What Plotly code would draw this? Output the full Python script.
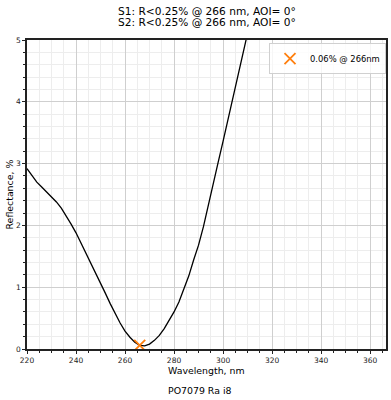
import plotly.graph_objects as go

wavelength = [220, 222, 224, 226, 228, 230, 232, 234, 236, 238, 240, 242, 244, 246, 248,
              250, 252, 254, 256, 258, 260, 262, 264, 266, 268, 270, 272, 274, 276, 278,
              280, 282, 284, 286, 288, 290, 292, 294, 296, 298, 300, 302, 304, 306, 308, 309.5]
reflectance = [2.92, 2.80, 2.70, 2.62, 2.54, 2.46, 2.38, 2.28, 2.16, 2.02, 1.88, 1.72, 1.56, 1.38, 1.22,
               1.06, 0.90, 0.73, 0.57, 0.42, 0.29, 0.19, 0.11, 0.06, 0.05, 0.08, 0.14, 0.22, 0.33, 0.46,
               0.60, 0.76, 0.96, 1.18, 1.44, 1.68, 1.98, 2.34, 2.68, 3.02, 3.36, 3.70, 4.04, 4.38, 4.74, 5.02]
min_wl = [266]
min_r = [0.06]
legend_label = "0.06% @ 266nm"

title_lines = ["S1: R<0.25% @ 266 nm, AOI= 0°", "S2: R<0.25% @ 266 nm, AOI= 0°"]
x_title = "Wavelength, nm"
y_title = "Reflectance, %"
footer_text = "PO7079 Ra i8"

font = "DejaVu Sans"

fig = go.Figure()
fig.add_trace(go.Scatter(x=wavelength, y=reflectance, mode="lines",
                         line=dict(color="black", width=1.3), showlegend=False))
fig.add_trace(go.Scatter(x=min_wl, y=min_r, mode="markers", name=legend_label,
                         marker=dict(symbol="x-thin", size=11, color="#ff7f0e",
                                     line=dict(color="#ff7f0e", width=1.8))))

axis_common = dict(showline=True, linecolor="#222222", linewidth=1.6, mirror=True,
                   ticks="outside", ticklen=3, tickcolor="#222222", automargin=False,
                   showgrid=True, gridcolor="#cfcfcf", gridwidth=1, zeroline=False,
                   tickfont=dict(family=font, size=7.5, color="#222222"))

fig.update_xaxes(range=[220, 366.5], tick0=220, dtick=20,
                 minor=dict(dtick=5, showgrid=True, gridcolor="#ededed", gridwidth=1,
                            ticks="outside", ticklen=2, tickcolor="#222222"),
                 **axis_common)
fig.update_yaxes(range=[0, 5], dtick=1,
                 minor=dict(dtick=0.2, showgrid=True, gridcolor="#ededed", gridwidth=1,
                            ticks="outside", ticklen=2, tickcolor="#222222"),
                 **axis_common)

txt = dict(family=font, color="black")
fig.update_layout(
    width=391, height=400,
    margin=dict(l=27, r=5, t=40, b=51, autoexpand=False),
    plot_bgcolor="white", paper_bgcolor="white",
    legend=dict(x=1.0, y=0.99, xanchor="right", yanchor="top",
                bgcolor="rgba(255,255,255,0.8)", bordercolor="#d0d0d0", borderwidth=1,
                font=dict(family=font, size=8.4, color="black")),
    annotations=[
        dict(text=title_lines[0], xref="paper", yref="paper", x=0.5, y=1.0939,
             xanchor="center", yanchor="middle", showarrow=False, font=dict(size=10.6, **txt)),
        dict(text=title_lines[1], xref="paper", yref="paper", x=0.5, y=1.0583,
             xanchor="center", yanchor="middle", showarrow=False, font=dict(size=10.6, **txt)),
        dict(text=x_title, xref="paper", yref="paper", x=0.5, y=-0.069,
             xanchor="center", yanchor="middle", showarrow=False, font=dict(size=9.4, **txt)),
        dict(text=y_title, xref="paper", yref="paper", x=-0.0474, y=0.5, textangle=-90,
             xanchor="center", yanchor="middle", showarrow=False, font=dict(size=9.4, **txt)),
        dict(text=footer_text, xref="paper", yref="paper", x=0.483, y=-0.1327,
             xanchor="center", yanchor="middle", showarrow=False, font=dict(size=9.4, **txt))],
)

# remove the default 8px page margin so the figure fills the window exactly
fig.write_html("out.html", config={"displayModeBar": False},
               post_script="document.body.style.margin='0px';")
